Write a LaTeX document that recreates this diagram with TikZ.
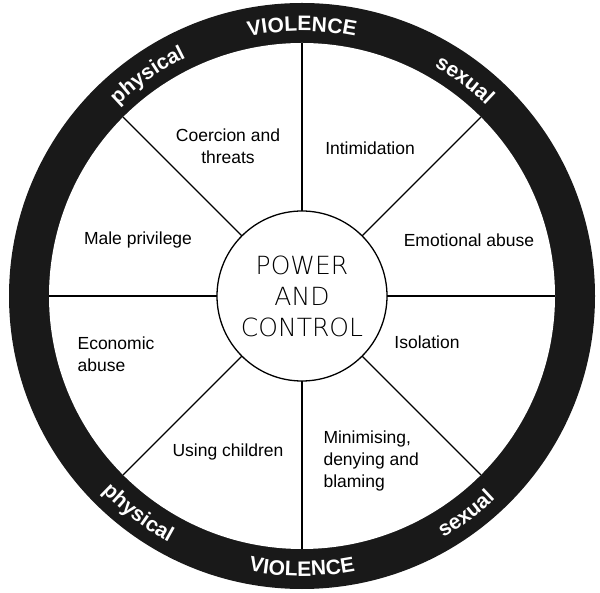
\documentclass[tikz,border=0pt]{standalone}
\usepackage{fontspec}
\setmainfont{Liberation Sans}
\newfontfamily\thinfont{DejaVu Sans ExtraLight}
\usetikzlibrary{decorations.text}
\begin{document}
\begin{tikzpicture}[x=1pt,y=1pt,
    lbl/.style={font=\fontsize{17.5}{22}\selectfont, align=center},
    ringtext/.style={decorate, decoration={text along path, text align=center,
        text={|\fontsize{21}{21}\selectfont\bfseries\color{white}|#1}}}]
  \useasboundingbox (0,0) rectangle (600,592);
  \coordinate (c) at (302,296);
  % ring and spokes
  \fill[black!90] (c) circle[radius=293];
  \fill[white] (c) circle[radius=253];
  \foreach \a in {0,45,...,315}
    \draw[line width=1.3pt] (c) ++(\a:85) -- ++(\a:168);
  \draw[line width=1.3pt, fill=white] (c) circle[radius=85];
  \node[font=\thinfont\fontsize{25}{31}\selectfont, align=center] (pc) at (c) {POWER\\AND\\CONTROL};
  % words on the ring
  \path[ringtext=VIOLENCE] (c) ++(115:265) arc[start angle=115, end angle=65, radius=265];
  \path[ringtext=physical] (c) ++(150:265) arc[start angle=150, end angle=100, radius=265];
  \path[ringtext=sexual] (c) ++(78:265) arc[start angle=78, end angle=28, radius=265];
  \path[ringtext=VIOLENCE] (c) ++(245:280) arc[start angle=245, end angle=295, radius=280];
  \path[ringtext=physical] (c) ++(208:280) arc[start angle=208, end angle=258, radius=280];
  \path[ringtext=sexual] (c) ++(282:280) arc[start angle=282, end angle=332, radius=280];
  % labels
  \node[lbl] (coerc) at (228,446) {Coercion and\\threats};
  \node[lbl] (intim) at (370,444) {Intimidation};
  \node[lbl] (emot) at (469,352) {Emotional abuse};
  \node[lbl] (male) at (138,352) {Male privilege};
  \node[lbl, align=left] (econ) at (116,238) {Economic\\abuse};
  \node[lbl] (isol) at (427,250) {Isolation};
  \node[lbl] (child) at (228,140) {Using children};
  \node[lbl, align=left, anchor=west] (minim) at (320,131) {Minimising,\\denying and\\blaming};
\end{tikzpicture}
\end{document}
